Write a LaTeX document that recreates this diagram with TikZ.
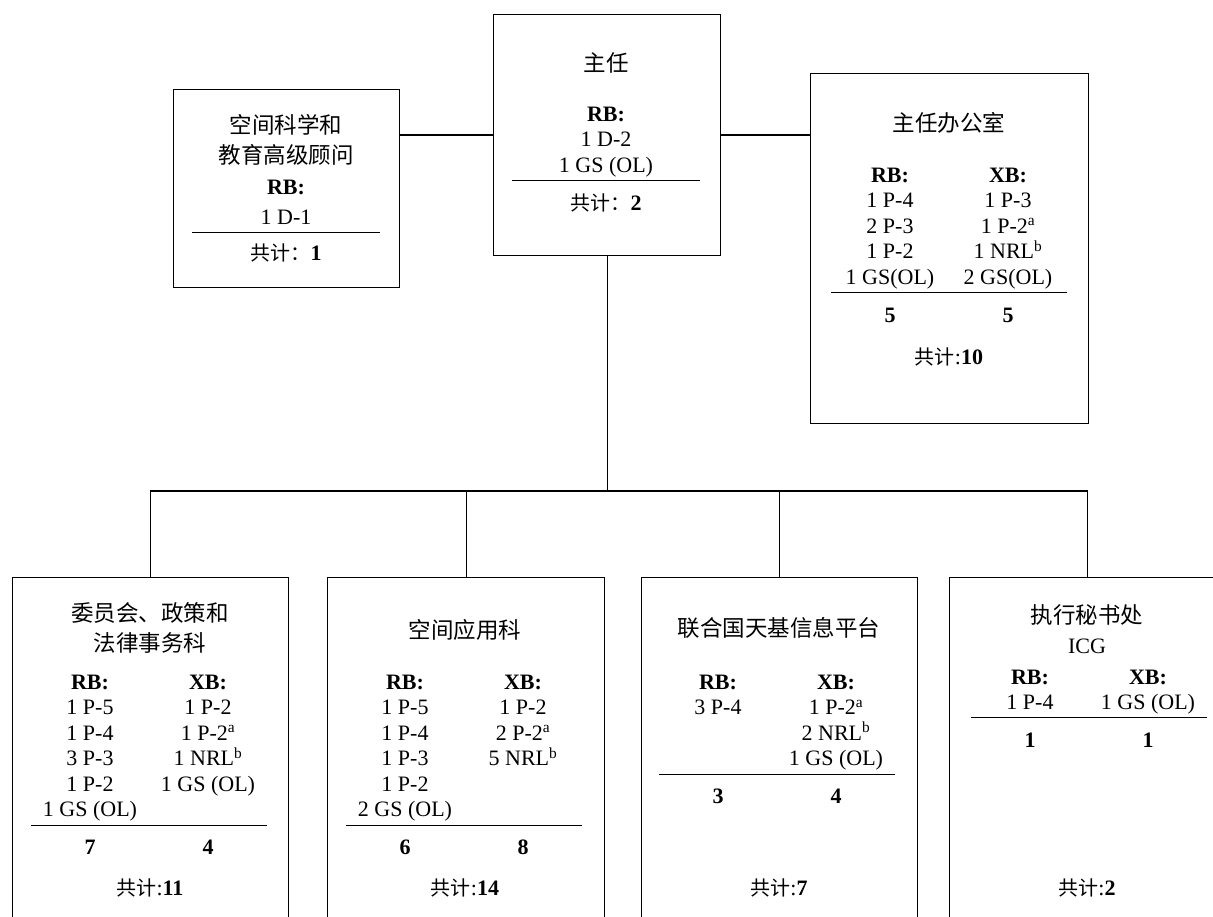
\documentclass[tikz,border=0pt]{standalone}
\usepackage{fontspec}
\setmainfont{Liberation Serif}
\newfontfamily\cjk{Noto Sans CJK SC}
\usepackage{array}
\newcolumntype{C}[1]{>{\centering\arraybackslash}p{#1}}
\setlength{\arrayrulewidth}{1.1pt}
\begin{document}
\begin{tikzpicture}[x=1pt,y=-1pt,
    unit/.style={draw,line width=1.1pt,anchor=north west,inner sep=0pt},
    head/.style={font=\cjk\fontsize{22.5}{30}\selectfont,align=center,inner sep=0pt},
    staff/.style={font=\fontsize{22}{25.5}\selectfont,anchor=north,inner sep=0pt},
    tot/.style={font=\fontsize{22}{26}\selectfont,inner sep=0pt},
    link/.style={line width=1.1pt}]
    \useasboundingbox (0,0) rectangle (1213,917);
    \clip (0,0) rectangle (1213,917);
    % boxes, upper row
    \node[unit,minimum width=226pt,minimum height=198pt] (adv) at (173,89) {};
    \node[unit,minimum width=227pt,minimum height=241pt] (dir) at (493,14) {};
    \node[unit,minimum width=278pt,minimum height=350pt] (off) at (810,73) {};
    % boxes, lower row (cut off by the page)
    \node[unit,minimum width=276pt,minimum height=360pt] (com) at (12,577) {};
    \node[unit,minimum width=277pt,minimum height=360pt] (app) at (327,577) {};
    \node[unit,minimum width=276pt,minimum height=360pt] (spider) at (641,577) {};
    \node[unit,minimum width=276pt,minimum height=360pt] (icg) at (949,577) {};
    % lines
    \coordinate (bar) at (dir.south |- 0,491);
    \path[link] (dir.west) edge (dir.west -| adv.east)
    (dir.east) edge (dir.east -| off.west)
    (dir.south) edge (bar);
    \draw[link] (com.north) |- (bar) -| (icg.north);
    \draw[link] (app.north) -- (app.north |- bar);
    \draw[link] (spider.north) -- (spider.north |- bar);
    % advisor
    \node[head] (advT) at (286,140) {空间科学和\\教育高级顾问};
    \node[staff] (advS) at (286,176) {\begin{tabular}{@{}C{188pt}@{}}
        \textbf{RB:}\\[4.5pt]
        1 D-1\\\hline
      \end{tabular}};
    \node[tot] (advN) at (286,253) {{\cjk\fontsize{20}{22}\selectfont 共计：}\textbf{1}};
    % director
    \node[head] (dirT) at (606,63) {主任};
    \node[staff] (dirS) at (606,103) {\begin{tabular}{@{}C{188pt}@{}}
        \textbf{RB:}\\
        1 D-2\\
        1 GS (OL)\\\hline
      \end{tabular}};
    \node[tot] (dirN) at (606,203) {{\cjk\fontsize{20}{22}\selectfont 共计：}\textbf{2}};
    % office of the director
    \node[head] (offT) at (949,123) {主任办公室};
    \node[staff] (offS) at (949,164) {\begin{tabular}{@{}C{118pt}@{}C{118pt}@{}}
        \textbf{RB:} & \textbf{XB:}\\
        1 P-4 & 1 P-3\\
        2 P-3 & 1 P-2\textsuperscript{a}\\
        1 P-2 & 1 NRL\textsuperscript{b}\\
        1 GS(OL) & 2 GS(OL)\\\hline
        \rule{0pt}{29pt}\textbf{5} & \textbf{5}
      \end{tabular}};
    \node[tot] (offN) at (949,357) {{\cjk\fontsize{20}{22}\selectfont 共计}:\textbf{10}};
    % committee, policy and legal affairs
    \node[head] (comT) at (150,628) {委员会、政策和\\法律事务科};
    \node[staff] (comS) at (149,671) {\begin{tabular}{@{}C{118pt}@{}C{118pt}@{}}
        \textbf{RB:} & \textbf{XB:}\\
        1 P-5 & 1 P-2\\
        1 P-4 & 1 P-2\textsuperscript{a}\\
        3 P-3 & 1 NRL\textsuperscript{b}\\
        1 P-2 & 1 GS (OL)\\
        1 GS (OL) & \\\hline
        \rule{0pt}{29pt}\textbf{7} & \textbf{4}
      \end{tabular}};
    \node[tot] (comN) at (150,888) {{\cjk\fontsize{20}{22}\selectfont 共计}:\textbf{11}};
    % space applications
    \node[head] (appT) at (465,630) {空间应用科};
    \node[staff] (appS) at (464,671) {\begin{tabular}{@{}C{118pt}@{}C{118pt}@{}}
        \textbf{RB:} & \textbf{XB:}\\
        1 P-5 & 1 P-2\\
        1 P-4 & 2 P-2\textsuperscript{a}\\
        1 P-3 & 5 NRL\textsuperscript{b}\\
        1 P-2 & \\
        2 GS (OL) & \\\hline
        \rule{0pt}{29pt}\textbf{6} & \textbf{8}
      \end{tabular}};
    \node[tot] (appN) at (465,888) {{\cjk\fontsize{20}{22}\selectfont 共计}:\textbf{14}};
    % UN-SPIDER
    \node[head] (spiderT) at (779,628) {联合国天基信息平台};
    \node[staff] (spiderS) at (777,671) {\begin{tabular}{@{}C{118pt}@{}C{118pt}@{}}
        \textbf{RB:} & \textbf{XB:}\\
        3 P-4 & 1 P-2\textsuperscript{a}\\
        & 2 NRL\textsuperscript{b}\\
        & 1 GS (OL)\\\hline
        \rule{0pt}{29pt}\textbf{3} & \textbf{4}
      \end{tabular}};
    \node[tot] (spiderN) at (779,888) {{\cjk\fontsize{20}{22}\selectfont 共计}:\textbf{7}};
    % ICG secretariat
    \node[head] (icgT) at (1087,629) {执行秘书处\\{\rmfamily\fontsize{22}{25}\selectfont ICG}};
    \node[staff] (icgS) at (1089,666) {\begin{tabular}{@{}C{118pt}@{}C{118pt}@{}}
        \textbf{RB:} & \textbf{XB:}\\
        1 P-4 & 1 GS (OL)\\\hline
        \rule{0pt}{29pt}\textbf{1} & \textbf{1}
      \end{tabular}};
    \node[tot] (icgN) at (1087,888) {{\cjk\fontsize{20}{22}\selectfont 共计}:\textbf{2}};
  \end{tikzpicture}
\end{document}
